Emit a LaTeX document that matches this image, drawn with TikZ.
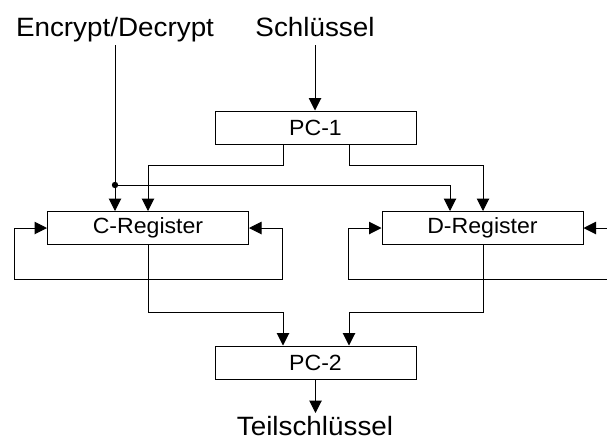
\documentclass[tikz,border=0pt]{standalone}
\usepackage{fontspec}
\setmainfont{Liberation Sans}[FakeStretch=1.05]
\usetikzlibrary{arrows.meta}
\begin{document}
\begin{tikzpicture}[x=1pt,y=-1pt,line width=1pt,
  >={Triangle[length=12.5pt,width=12.5pt]},
  box/.style={draw,minimum width=201pt,minimum height=33pt,inner sep=0pt,
    font=\fontsize{22}{24}\selectfont},
  lab/.style={font=\fontsize{26.5}{28}\selectfont,inner sep=0pt,anchor=base}]
\useasboundingbox (0,0) rectangle (607,440);
% boxes
\node[box] (pc1) at (315.5,127.5) {PC-1};
\node[box] (creg) at (148,228) {C-Register};
\node[box] (dreg) at (482.5,228) {D-Register};
\node[box] (pc2) at (315.5,362.5) {PC-2};
% labels
\node[lab] (enc) at (115,36) {Encrypt/Decrypt};
\node[lab] (key) at (315,36) {Schlüssel};
\node[lab] (sub) at (315,435) {Teilschlüssel};
% coordinates
\coordinate (encs) at (115,45);
\coordinate (keys) at (315,45);
\coordinate (dot) at (115,185);
\coordinate (subn) at (315.5,413);
\coordinate (dr) at (607,228);
\coordinate (drb) at (607,279);
% connectors
\draw[->] (encs) -- (dot |- creg.north);
\fill (dot) circle (3.2pt);
\draw[->] (dot) -| ([xshift=-32.5pt]dreg.north);
\draw[->] (keys) -- (keys |- pc1.north);
\draw[->] ([xshift=-32.5pt]pc1.south) -- ++(0,21) -| (creg.north);
\draw[->] ([xshift=33.5pt]pc1.south) -- ++(0,21) -| ([xshift=0.5pt]dreg.north);
% C loop
\draw[<->] (creg.west) -- ++(-33,0) -- ++(0,51) -- ++(268,0) -- ++(0,-51) -- (creg.east);
% D loop
\draw[->] (drb) -| ([xshift=-33pt]dreg.west) -- (dreg.west);
\draw[->] (dr) -- (dreg.east);
% outputs
\draw[->] (creg.south) -- ++(0,67) -| ([xshift=-32.5pt]pc2.north);
\draw[->] ([xshift=0.5pt]dreg.south) -- ++(0,67) -| ([xshift=33.5pt]pc2.north);
\draw[->] (pc2.south) -- (subn);
\end{tikzpicture}
\end{document}
